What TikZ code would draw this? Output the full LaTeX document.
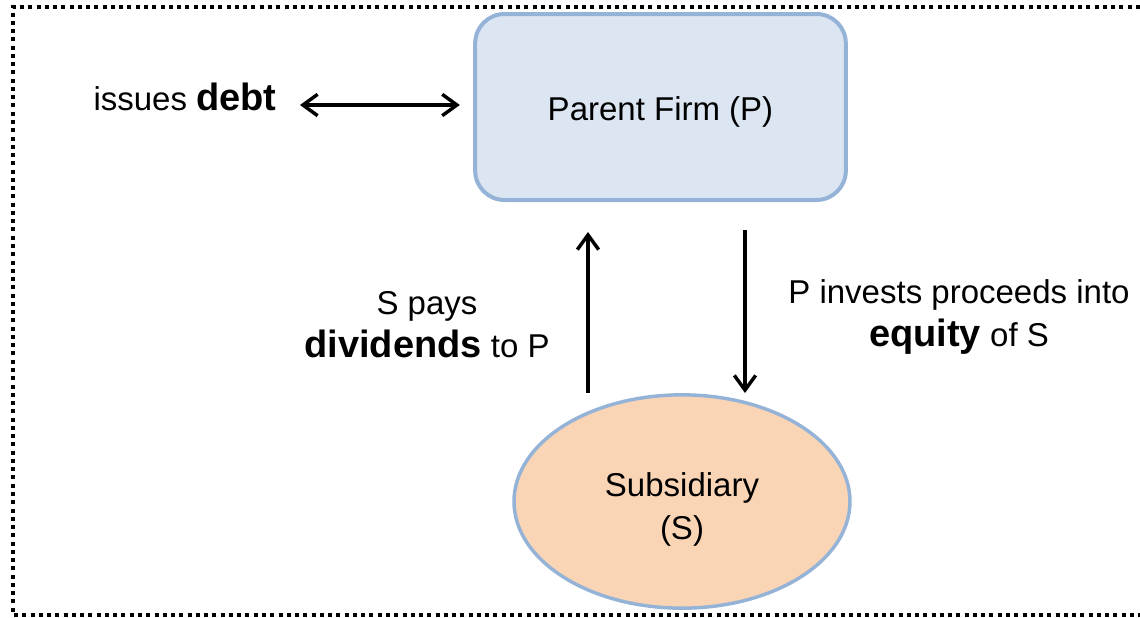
\documentclass[tikz,border=0pt]{standalone}
\usepackage{fontspec}
\setmainfont{Liberation Sans}
\usetikzlibrary{arrows.meta,shapes.geometric}

\tikzset{every picture/.style={line width=0.75pt}}
\tikzset{
	firmbox/.style={draw={rgb, 255:red, 149; green, 179; blue, 215 }, line width=3pt, fill={rgb, 255:red, 220; green, 230; blue, 242 }, rounded corners=22pt, minimum width=278pt, minimum height=139.5pt, inner sep=0pt},
	subell/.style={ellipse, draw={rgb, 255:red, 149; green, 179; blue, 215 }, line width=2.6pt, fill={rgb, 255:red, 250; green, 213; blue, 181 }, minimum width=252pt, minimum height=160pt, inner sep=0pt, align=center},
	txt/.style={inner sep=0.75pt, align=center, font=\fontsize{24.75}{32.25}\selectfont},
	flow/.style={line width=2.6pt, arrows={-Straight Barb[length=11pt,width=16pt]}},
	frame/.style={line width=3pt, dash pattern=on 3pt off 3.2pt}
}
\newcommand{\bigbold}[1]{{\fontsize{28.5}{32.25}\selectfont\bfseries #1}}

\def \pX {660.5}
\def \pY {107}
\def \sX {682}
\def \sY {501.5}
\def \upX {588}
\def \downX {745}
\def \arrY {393}

\begin{document}
\begin{tikzpicture}[x=0.75pt,y=0.75pt,yscale=-1,xscale=1]
	\useasboundingbox (0,0) rectangle (1140,618);

	%Shape: Dotted frame, open on the right
	\draw [frame] (1140,7) -- (13,7) -- (13,615) -- (1140,615) ;

	%Rounded Rect
	\node [firmbox] (parent) at (\pX,\pY) {};
	%Shape: Ellipse
	\node [subell] (sub) at (\sX,\sY) {};

	% Text Node
	\node [txt] (parentlbl) at (\pX,\pY+5) {Parent Firm (P)};
	% Text Node
	\node [txt] (sublbl) at (\sX,\sY+8) {Subsidiary\\(S)};
	% Text Node
	\node [txt, anchor=base] (debt) at (185,110) {issues \bigbold{debt}};
	% Text Node
	\node [txt] (divs) at (427,325) {S pays\\\bigbold{dividends} to P};
	% Text Node
	\node [txt] (invest) at (959,317) {P invests proceeds into\\\bigbold{equity} of S};

	% Arrows
	\coordinate (debtEnd) at (300,105);
	\coordinate (upFoot) at (\upX,\arrY);
	\coordinate (downTip) at (\downX,\arrY);
	\draw [flow, arrows={Straight Barb[length=11pt,width=16pt]-Straight Barb[length=11pt,width=16pt]}, shorten >=10pt] (debtEnd) -- (debtEnd -| parent.west) ;
	\draw [flow, shorten >=22.5pt] (upFoot) -- (upFoot |- parent.south) ;
	\draw [flow, shorten <=21pt] (downTip |- parent.south) -- (downTip) ;

\end{tikzpicture}
\end{document}
